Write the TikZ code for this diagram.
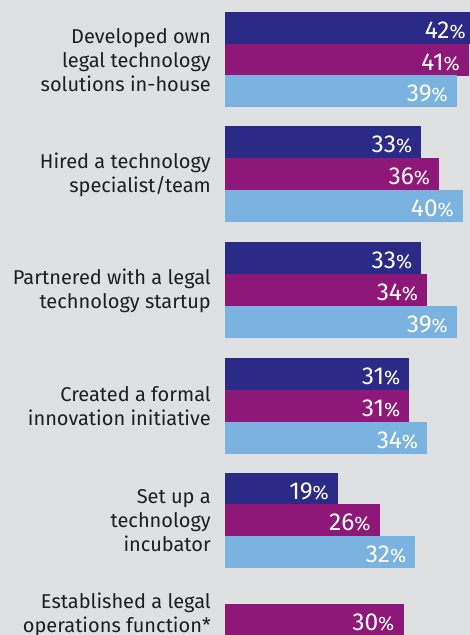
\documentclass[tikz,border=0pt]{standalone}
\usepackage{fontspec}
\setmainfont{Fira Sans}
\usetikzlibrary{calc}
\definecolor{bgrey}{HTML}{DFE0E2}
\definecolor{navybar}{HTML}{2B2A87}
\definecolor{plumbar}{HTML}{8E1877}
\definecolor{skybar}{HTML}{7BB3E0}
\definecolor{labeltext}{HTML}{1E1E1E}
\tikzset{
  pct/.style={text=white, inner sep=0pt, anchor=base east, font=\fontsize{24.5}{24}\selectfont},
  rowlabel/.style={text=labeltext, inner sep=0pt, anchor=east, align=right, font=\fontsize{20}{24}\selectfont}
}
% bar: #1 colour, #2 top, #3 value, #4 node name
\def\pctbar#1#2#3#4{\fill[#1] (225, #2) rectangle ({225+5.95*#3}, {#2+32});
  \node[pct] (#4) at ({225+5.95*#3-9}, {#2+26}) {#3{\fontsize{19.5}{20}\selectfont\%}};}

\begin{document}
\begin{tikzpicture}[x=1pt, y=-1pt]
		%%%%% START %%%%%
		
		\fill[bgrey] (0, 0) rectangle (470, 635);
		\useasboundingbox (0, 0) rectangle (470, 635);
		\clip (0, 0) rectangle (470, 635);
		
		\node[rowlabel] (inhouse) at (211, 60) {Developed own\\legal technology\\solutions in-house};
		\pctbar{navybar}{12}{42}{inhouse1}
		\pctbar{plumbar}{44}{41}{inhouse2}
		\pctbar{skybar}{75}{39}{inhouse3}
		
		\node[rowlabel] (hired) at (211, 175) {Hired a technology\\specialist/team};
		\pctbar{navybar}{126}{33}{hired1}
		\pctbar{plumbar}{158}{36}{hired2}
		\pctbar{skybar}{190}{40}{hired3}
		
		\node[rowlabel] (startup) at (211, 291) {Partnered with a legal\\technology startup};
		\pctbar{navybar}{242}{33}{startup1}
		\pctbar{plumbar}{274}{34}{startup2}
		\pctbar{skybar}{306}{39}{startup3}
		
		\node[rowlabel] (innov) at (211, 406) {Created a formal\\innovation initiative};
		\pctbar{navybar}{358}{31}{innov1}
		\pctbar{plumbar}{390}{31}{innov2}
		\pctbar{skybar}{422}{34}{innov3}
		
		\node[rowlabel] (incub) at (211, 521) {Set up a\\technology\\incubator};
		\pctbar{navybar}{473}{19}{incub1}
		\pctbar{plumbar}{504}{26}{incub2}
		\pctbar{skybar}{536}{32}{incub3}
		
		\node[rowlabel] (legalops) at (211, 615) {Established a legal\\operations function*};
		\pctbar{plumbar}{604}{30}{legalops2}
		
		%%%%% END %%%%%
\end{tikzpicture}
\end{document}
